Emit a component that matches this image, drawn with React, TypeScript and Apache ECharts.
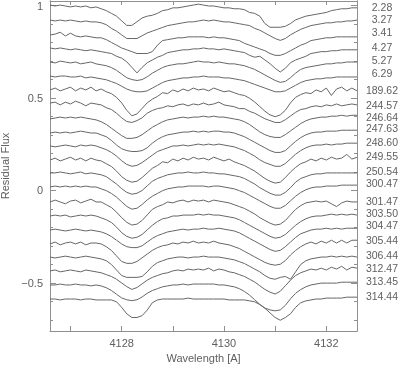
import React, { useEffect, useRef } from 'react';
import * as echarts from 'echarts';

// Wavelength grid (Angstrom)
const WAVELENGTH = [
  4126.6, 4126.7, 4126.8, 4126.9, 4127.0, 4127.1, 4127.2, 4127.3, 4127.4, 4127.5,
  4127.6, 4127.7, 4127.8, 4127.9, 4128.0, 4128.1, 4128.2, 4128.3, 4128.4, 4128.5,
  4128.6, 4128.7, 4128.8, 4128.9, 4129.0, 4129.1, 4129.2, 4129.3, 4129.4, 4129.5,
  4129.6, 4129.7, 4129.8, 4129.9, 4130.0, 4130.1, 4130.2, 4130.3, 4130.4, 4130.5,
  4130.6, 4130.7, 4130.8, 4130.9, 4131.0, 4131.1, 4131.2, 4131.3, 4131.4, 4131.5,
  4131.6, 4131.7, 4131.8, 4131.9, 4132.0, 4132.1, 4132.2, 4132.3, 4132.4, 4132.5, 4132.6,
];

// Epoch labels (right side)
const STAR_LABELS = [
  '2.28', '3.27', '3.41', '4.27', '5.27', '6.29', '189.62', '244.57', '246.64', '247.63', '248.60',
  '249.55', '250.54', '300.47', '301.47', '303.50', '304.47', '305.44', '306.44', '312.47', '313.45', '314.44',
];

// Continuum level (plot offset) of each spectrum
const CONTINUUM = [
  1.003, 0.922, 0.841, 0.771, 0.695, 0.619, 0.544, 0.473, 0.387, 0.311, 0.241,
  0.165, 0.095, 0.019, -0.062, -0.138, -0.214, -0.289, -0.36, -0.435, -0.511, -0.587,
];

// Level at which each epoch label sits
const LABEL_LEVEL = [
  0.995, 0.93, 0.857, 0.776, 0.706, 0.636, 0.544, 0.462, 0.397, 0.336, 0.262,
  0.187, 0.105, 0.041, -0.057, -0.122, -0.187, -0.268, -0.349, -0.419, -0.49, -0.571,
];

// Residual flux of each spectrum, in percent of continuum
const S01 = [0, -0.5, 0, -0.5, -1, -0.5, -1, -0.5, -1.5, -1, -2, -3, -4.5, -6, -8.5, -11, -11, -9, -7, -6, -5.5, -4.5, -3, -2.5, -1.5, -1.5, -1, -0.5, 0, 0.5, 0, -0.5, -0.5, -1, -1.5, -1.5, -2, -2, -2.5, -4, -4.5, -6, -10, -12, -12, -12, -11.5, -10, -8, -7, -6, -5.5, -5, -4.5, -4, -3, -2.5, -2, -2, -1.5, -1.5];
const S02 = [0, -0.5, 0, -0.5, 0, -0.5, -1, -0.5, -1, -1, -1.5, -2.5, -4.5, -6, -8, -10, -10, -10, -8.5, -7, -6, -5, -4, -3, -2.5, -2, -1.5, -1, -1, -0.5, 0, -0.5, 0, -0.5, -1, -1, -1.5, -2, -2.5, -3, -4.5, -5.5, -7, -8.5, -10, -11, -10, -8, -6.5, -5, -4, -3, -2.5, -2, -1.5, -1.5, -1, -1, -0.5, -0.5, 0];
const S03 = [0, 0.5, 1.5, -0.5, 1, -0.5, -1, -0.5, -1, -1.5, -1.5, -2.5, -4, -5.5, -7, -8, -9, -10, -10, -10, -9, -5.5, -3, -2.5, -2, -1.5, -1.5, -1, -1, -1, -1, -1.5, -1, -1.5, -1.5, -2, -2.5, -3, -4.5, -5.5, -6.5, -7.5, -8.5, -10, -11, -11, -10, -8.5, -7, -5.5, -4.5, -3, -2.5, -2, -1.5, -1.5, -1, -1, -1, -1, -1];
const S04 = [0, -0.5, 0, -0.5, -1, -0.5, -1, -1.5, -1, -1.5, -2, -2.5, -3, -4.5, -5.5, -7.5, -10.5, -13.5, -10.5, -8, -6.5, -5, -4, -2.5, -2, -1.5, -1, -1, -0.5, -0.5, 0, -0.5, -0.5, -1, -0.5, -1, -1.5, -2, -2.5, -4, -5, -4.5, -6.5, -8.5, -11, -13, -11, -8, -6.5, -5.5, -4.5, -3, -2.5, -2, -2, -1.5, -1.5, -1, -1, -1, -1];
const S05 = [0, -0.5, 0.5, 0, -0.5, 0, -1, -0.5, 0, -1, -1.5, -2, -3, -4.5, -6.5, -8.5, -9.5, -10, -9.5, -8, -6, -4.5, -3, -2, -1.5, -1, -1, -0.5, 0, 0.5, 0, 0, -0.5, 0, -0.5, -1, -1, -1.5, -2, -3, -4, -5.5, -7, -8.5, -10, -11, -10.5, -8.5, -6, -4, -3, -2.5, -2, -1.5, -1, -1, -0.5, -0.5, 0, 0, 0];
const S06 = [0, -0.5, 0, 0, -0.5, -0.5, 0, -1, -0.5, -1, -1.5, -2, -3, -4, -5.5, -7, -8, -8.5, -8.5, -8, -6.5, -5, -3.5, -2.5, -2, -1.5, -1, -1, -0.5, -0.5, 0, -0.5, -0.5, -0.5, -1, -1, -1.5, -2, -2.5, -3.5, -4.5, -5.5, -6.5, -7.5, -8.5, -8.5, -8, -6.5, -5, -3.5, -2.5, -2, -1.5, -1.5, -1, -1, -0.5, -0.5, -0.5, -0.5, -0.5];
const S07 = [0, 1, -0.5, 0.5, 1.5, -0.5, 1, 0, 1.5, -0.5, 0.5, -1, -2, -4, -7, -11, -14, -13, -10, -7, -5, -3.5, -1.5, -2, 0, -1, 0.5, -0.5, 1, 0, 0.5, -0.5, 1, 0, -1, -0.5, -1.5, -2.5, -3, -4.5, -6.5, -9, -11.5, -13.5, -14.5, -13.5, -11, -7, -4, -2.5, -1.5, -2, 0, -1, 1, -3, 0.5, 1.5, -0.5, 1, -0.5];
const S08 = [0, 0.5, -1, 0.5, -0.5, 1, 0, -1.5, 0, -0.5, -1, -2.5, -3.5, -5.5, -8, -10, -10.5, -9.5, -8, -5.5, -4, -3, -2.5, -1.5, -2, -1, -0.5, -1.5, -0.5, -1, 0, -1, -0.5, 0.5, -1, -1.5, -2, -3, -3, -4.5, -5.5, -7, -8.5, -9.5, -10.5, -10.5, -9, -7, -5, -3.5, -3, -2, -1.5, -2, -1, -1.5, -0.5, -1.5, -1, -0.5, -1];
const S09 = [0, 0.5, 1, 0.5, 1, 0.5, 1, 0.5, 0, -0.5, -1.5, -3, -5, -7, -9, -10.5, -10.5, -10, -8.5, -6.5, -4.5, -3, -1.5, -0.5, 0, 0.5, 1, 0.5, 1, 1, 1.5, 1, 1.5, 1, 1, 0.5, 0, -0.5, -1.5, -3, -5, -7, -8.5, -9.5, -10, -10, -8.5, -6.5, -4.5, -2.5, -1, 0, 0.5, 1, 1, 1.5, 1.5, 2, 1.5, 2, 2];
const S10 = [0, 0.5, 0, 0.5, 0, 0.5, 1, 0.5, 0, 0, -1, -2, -4, -6.5, -8.5, -9.5, -10, -10, -9.5, -8, -5.5, -3.5, -2, -1, -0.5, 0, 0.5, 0.5, 1, 0.5, 1, 0.5, 1, 1, 0.5, 0.5, 0, -1, -2, -3.5, -5, -6.5, -8, -9.5, -10.5, -10.5, -9.5, -7, -4.5, -2.5, -1, 0, 0.5, 0.5, 1, 1, 1, 1.5, 1.5, 1.5, 1.5];
const S11 = [0, -0.5, 0, 0.5, 0, -0.5, 0.5, 0, 0.5, 0, -1, -2, -3.5, -5.5, -8, -10, -11, -10.5, -9, -7, -5, -3, -2, -1, 0, 0, 0.5, 0, 0.5, 1, 0.5, 1, 0.5, 1, 0.5, 0, -0.5, -1.5, -2.5, -4, -5.5, -7.5, -9, -10, -11, -11, -9.5, -7, -4.5, -2.5, -1, 0, 0.5, 0.5, 1, 0.5, 1, 1, 1.5, 1.5, 1.5];
const S12 = [0, 1, -0.5, 0.5, 1.5, 0, 1, -0.5, 1, 0, -0.5, -2, -3.5, -6, -9, -11, -12, -11.5, -9.5, -7, -4.5, -3, -1, -1.5, 0.5, -0.5, 1, 0, 1.5, 0.5, 1, 0, 1.5, 0.5, -0.5, 0.5, -1, -2, -3, -4.5, -6, -8, -10, -11.5, -12.5, -12, -9.5, -6.5, -4, -2, -1, 0.5, -0.5, 1, 0, 1.5, 0.5, 1, 3, 0.5, 1.5];
const S13 = [0, 0, 0.5, 0, -0.5, 0, 0.5, -0.5, 0, -0.5, -1, -2, -4, -6, -8.5, -10.5, -11.5, -11, -9.5, -7, -4.5, -3, -2, -1, -0.5, 0, 0, 0.5, 0, 0, 0.5, 0, 0, -0.5, -0.5, -1, -1.5, -2, -3, -4.5, -6, -8, -9.5, -11, -12, -12, -10.5, -8, -5, -3, -2, -1, -0.5, -0.5, 0, 0, 0, 0, 0, 0, 0];
const S14 = [0, 0.5, 0, 0.5, 0, 0.5, 0, 0.5, 0, 0, -1, -2, -3.5, -5.5, -8, -10.5, -12, -11.5, -9.5, -7, -5, -3.5, -2, -1, -0.5, 0, 0, 0.5, 0.5, 0.5, 0.5, 0, 0.5, 0.5, 0, -0.5, -1, -2, -3, -4.5, -6, -7.5, -9, -10.5, -11.5, -11.5, -10, -7.5, -5, -3, -1.5, -0.5, 0, 0, 0.5, 0.5, 0.5, 1, 1, 1, 1];
const S15 = [0, 1, 0, -1, 0.5, 1, -0.5, 0.5, 1.5, 0, 0, -1.5, -3, -5.5, -8.5, -11, -12.5, -12, -10, -7, -4, -2.5, -1.5, 0, -0.5, 0.5, 1, 0, 1, 0.5, 1, 0, 1, 0.5, 0, -0.5, -1.5, -2.5, -3.5, -5, -6.5, -8.5, -10, -11.5, -12.5, -12, -10, -7, -4, -2, -0.5, 0, 0.5, 0, 0.5, -1, -2.5, -0.5, 0.5, 0, 0];
const S16 = [0, 0.5, 0, 0.5, -0.5, 0, 0.5, 0, 0.5, 0, -1, -2, -3.5, -6, -9, -11, -12, -11.5, -10, -7.5, -5, -3, -1.5, -1, 0, 0, 0.5, 0.5, 0.5, 1, 0.5, 1, 0.5, 0.5, 0, -0.5, -1, -2, -3.5, -5, -6.5, -8, -9.5, -11, -12, -11.5, -10, -7.5, -5, -3, -1.5, -0.5, 0, 0, 0.5, 1, 0.5, 1, 0.5, 1, 0.5];
const S17 = [0, 0.5, 0, -0.5, 0, 0.5, 0, -0.5, 0, -0.5, -1, -2, -3.5, -5.5, -7.5, -9, -9.5, -9.5, -8.5, -6.5, -4.5, -3, -2, -1, -0.5, 0, 0.5, 0, 0.5, 0.5, 1, 0.5, 0.5, 1, 0.5, 0, -0.5, -1.5, -3, -4.5, -6, -7.5, -9, -10.5, -11.5, -11, -9, -6.5, -4, -2, -1, 0, 0.5, 0.5, 1, 0.5, 1, 0.5, 1, 1, 1];
const S18 = [0, 1, -0.5, 0.5, 1, 0, 1, -0.5, 0.5, 0.5, 0, -1.5, -3.5, -6.5, -9.5, -10.5, -10.5, -9.5, -7.5, -5.5, -3.5, -2, -1, -0.5, 0.5, 0, 1, 0.5, 1.5, 0.5, 1, 0.5, 1.5, 0.5, 0, -0.5, -1.5, -2.5, -4, -5.5, -7, -8.5, -10, -11, -11.5, -11, -9, -6, -3.5, -1.5, 0, 1, 0, 1.5, 0.5, 2, 0.5, 2, 0.5, 2, 2];
const S19 = [0, -0.5, 0, 0.5, 0, -0.5, 0, 0.5, 0, -0.5, -1, -2, -4, -7, -10, -11, -11, -11, -10.5, -8, -5, -3, -2, -1, -0.5, 0, 0, -0.5, 0, 0, 0.5, 0, 0, 0, -0.5, -1, -1.5, -2.5, -3.5, -5, -6.5, -8, -10, -11.5, -12, -11, -10.5, -12, -8, -4, -2, -1, -0.5, 0, 0, 0.5, 0, 0.5, 0, 0.5, 0];
const S20 = [0, 0.5, -0.5, 0, 0.5, 0, -0.5, 0.5, 0, -0.5, -1, -2, -3, -4.5, -6.5, -8.5, -10, -9, -7, -5, -3.5, -2.5, -1.5, -1, 0, 0.5, 0, 1, 0.5, 1, 0.5, 1.5, 0, 1, 0.5, -0.5, -1, -2, -3, -4.5, -6, -8, -10, -11.5, -12.5, -11, -8, -5, -2.5, -1, 0, 1, 0.5, 1.5, 0.5, 2, 1, 2.5, 0.5, 2, 1.5];
const S21 = [0, 0, 0.5, 0, 0, 0.5, 0, 0, -0.5, 0, -0.5, -1.5, -3, -5, -7, -8, -8.5, -8, -6.5, -4.5, -3, -2, -1, -0.5, 0, 0, 0.5, 0, 0.5, 0.5, 0.5, 0.5, 0.5, 0, 0, -0.5, -1, -2, -3.5, -5.5, -8, -10.5, -12.5, -13.5, -14, -13.5, -11, -7.5, -4.5, -2.5, -1, 0, 0.5, 1, 1, 1, 1, 1.5, 1.5, 1.5, 1.5];
const S22 = [0, 0, -0.5, 0, 0, 0, -0.5, 0, 0, -0.5, -0.5, -0.5, -0.5, -1.5, -4.5, -8, -10, -10, -9, -6, -2, -0.5, 0, 0, 0, 0, 0, 0.5, 0, 0, 0, 0, 0, 0, 0, -0.5, -0.5, -0.5, -0.5, -1, -1.5, -3, -5, -7.5, -10, -11.5, -10, -8, -4.5, -2, -1, -0.5, 0, 0, 0.5, 0.5, 0.5, 0.5, 1, 1, 1];

const RESIDUAL_PERCENT = [S01, S02, S03, S04, S05, S06, S07, S08, S09, S10, S11, S12, S13, S14, S15, S16, S17, S18, S19, S20, S21, S22];

const X_MIN = 4126.6;
const X_MAX = 4132.6;
const Y_MIN = -0.76;
const Y_MAX = 1.025;
const X_TICKS = [4127, 4128, 4129, 4130, 4131, 4132];
const X_TICK_LABELS = [4128, 4130, 4132];
const Y_MAJOR = [-0.5, 0, 0.5, 1];
const Y_MINOR = [-0.7, -0.6, -0.4, -0.3, -0.2, -0.1, 0.1, 0.2, 0.3, 0.4, 0.6, 0.7, 0.8, 0.9];

const FONT = 'Liberation Sans, Arial, Helvetica, sans-serif';
const AXIS_COLOR = '#8f8f8f';
const TEXT_COLOR = '#606060';
const LINE_COLOR = '#666666';

export default function App() {
  const ref = useRef<HTMLDivElement>(null);
  useEffect(() => {
    if (!ref.current) return;
    const chart = echarts.init(ref.current, null, { renderer: 'svg' });
    const axisLine = { show: true, onZero: false, lineStyle: { color: AXIS_COLOR, width: 1 } };
    const yFmt = (v: number) => (v < 0 ? '\u2212' + String(Math.abs(v)) : String(v));
    const series = RESIDUAL_PERCENT.map((res, k) => ({
      type: 'line',
      name: STAR_LABELS[k],
      xAxisIndex: 0,
      yAxisIndex: 0,
      symbol: 'none',
      silent: true,
      lineStyle: { color: LINE_COLOR, width: 1 },
      data: WAVELENGTH.map((w, i) => [w, CONTINUUM[k] + res[i] / 100]),
    }));
    chart.setOption({
      animation: false,
      grid: { left: 50, right: 41, top: 1, bottom: 36, containLabel: false, outerBoundsMode: 'none' },
      xAxis: [
        {
          type: 'value', min: X_MIN, max: X_MAX, position: 'bottom',
          axisLine,
          axisTick: { show: true, inside: true, length: 5, customValues: X_TICKS, lineStyle: { color: AXIS_COLOR } },
          axisLabel: { customValues: X_TICK_LABELS, formatter: (v: number) => String(v), margin: 6, color: TEXT_COLOR, fontSize: 11, fontFamily: FONT },
          splitLine: { show: false },
          name: 'Wavelength [A]', nameLocation: 'middle', nameGap: 21,
          nameTextStyle: { color: TEXT_COLOR, fontSize: 11, fontFamily: FONT },
        },
        {
          type: 'value', min: X_MIN, max: X_MAX, position: 'top',
          axisLine,
          axisTick: { show: true, inside: true, length: 4, customValues: X_TICKS, lineStyle: { color: AXIS_COLOR } },
          axisLabel: { show: false },
          splitLine: { show: false },
        },
      ],
      yAxis: [
        {
          type: 'value', min: Y_MIN, max: Y_MAX, position: 'left',
          axisLine,
          axisTick: { show: true, inside: true, length: 6, customValues: Y_MAJOR, lineStyle: { color: AXIS_COLOR } },
          axisLabel: { customValues: Y_MAJOR, formatter: yFmt, margin: 7, color: TEXT_COLOR, fontSize: 11, fontFamily: FONT },
          splitLine: { show: false },
          name: 'Residual Flux', nameLocation: 'middle', nameGap: 37, nameRotate: 90,
          nameTextStyle: { color: TEXT_COLOR, fontSize: 11, fontFamily: FONT },
        },
        {
          type: 'value', min: Y_MIN, max: Y_MAX, position: 'left',
          axisLine,
          axisTick: { show: true, inside: true, length: 3, customValues: Y_MINOR, lineStyle: { color: AXIS_COLOR } },
          axisLabel: { show: false },
          splitLine: { show: false },
        },
        {
          type: 'value', min: Y_MIN, max: Y_MAX, position: 'right',
          axisLine,
          axisTick: { show: true, inside: true, length: 6, customValues: Y_MAJOR, lineStyle: { color: AXIS_COLOR } },
          axisLabel: { show: false },
          splitLine: { show: false },
        },
        {
          type: 'value', min: Y_MIN, max: Y_MAX, position: 'right',
          axisLine,
          axisTick: { show: true, inside: true, length: 3, customValues: Y_MINOR, lineStyle: { color: AXIS_COLOR } },
          axisLabel: { show: false },
          splitLine: { show: false },
        },
      ],
      series,
    });
    const xRight = chart.convertToPixel({ xAxisIndex: 0 }, X_MAX) as number;
    const texts = STAR_LABELS.map((lab, k) => {
      const py = chart.convertToPixel({ yAxisIndex: 0 }, LABEL_LEVEL[k]) as number;
      return {
        type: 'text',
        x: xRight + 25,
        y: py,
        silent: true,
        style: { text: lab, align: 'center', verticalAlign: 'middle', fill: TEXT_COLOR, font: `10.5px ${FONT}` },
      };
    });
    chart.setOption({ graphic: texts });
    return () => chart.dispose();
  }, []);
  return <div ref={ref} style={{ position: 'fixed', left: 0, top: 0, width: 398, height: 367 }} />;
}
